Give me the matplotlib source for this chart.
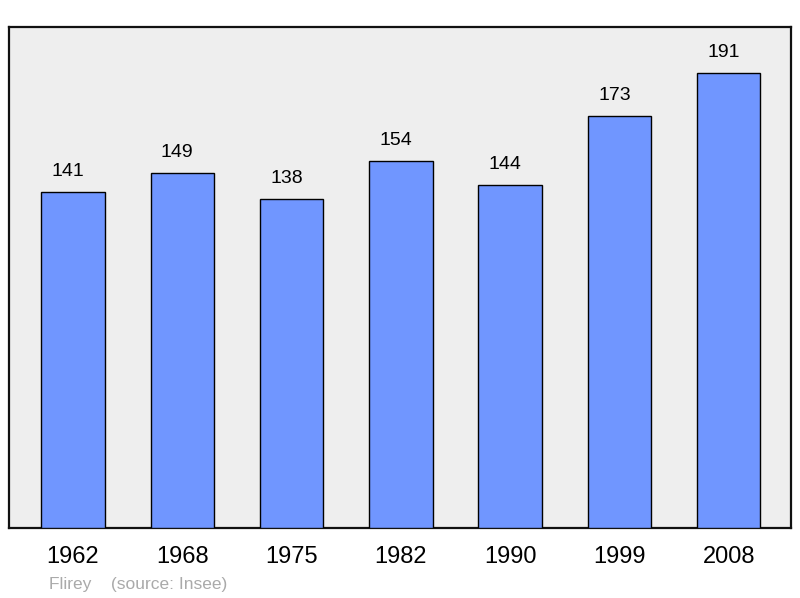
import matplotlib.pyplot as plt

plt.rcParams['font.family'] = ['Liberation Sans', 'DejaVu Sans']

years = ["1962", "1968", "1975", "1982", "1990", "1999", "2008"]
population = [141, 149, 138, 154, 144, 173, 191]

fig = plt.figure(figsize=(8, 5.98), dpi=100)
ax = fig.add_axes([9 / 800, 70 / 598, 782 / 800, 501 / 598])
ax.set_facecolor("#eeeeee")

x = list(range(len(years)))
ax.bar(x, population, width=0.58, color="#7096ff", edgecolor="black", linewidth=1, zorder=3)

# value labels sit a bit left of the bar centre in the original
for xi, v in zip(x, population):
    ax.annotate(str(v), (xi, v), xytext=(-3.6, 8.5), textcoords="offset points",
                ha="center", va="bottom", fontsize=14)

ax.set_xlim(-0.585, 6.57)
ax.set_ylim(0, 210.2)
ax.set_xticks(x)
ax.set_xticklabels(years, fontsize=17)
ax.tick_params(axis="x", length=0, pad=13)
ax.set_yticks([])
for s in ax.spines.values():
    s.set_linewidth(1.6)
    s.set_color("#111111")

fig.text(49 / 800, 1 - 584 / 598, "Flirey    (source: Insee)", fontsize=12.5,
         color="#aaaaaa", va="center", ha="left")

fig.savefig("out.png", dpi=100)
